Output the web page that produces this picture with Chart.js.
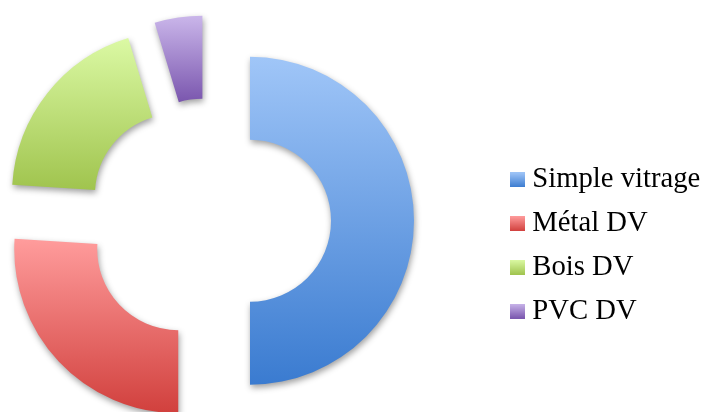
<!DOCTYPE html>
<html>
<head>
<meta charset="utf-8">
<script src="https://cdn.jsdelivr.net/npm/chart.js@4/dist/chart.umd.min.js"></script>
<style>
  html, body { margin: 0; padding: 0; background: #ffffff; }
  #wrap { width: 706px; height: 412px; }
</style>
</head>
<body>
<div id="wrap"><canvas id="c" width="706" height="412"></canvas></div>
<script>
// ---- data ----
const categories = ['Simple vitrage', 'Métal DV', 'Bois DV', 'PVC DV'];
const shares = [50, 26, 19.3, 4.7];

// ---- styles ----
const topColors = ['#A0C6F8', '#FF9C9C', '#DBF9A4', '#CAB6EA'];
const bottomColors = ['#3A7BD0', '#D1403D', '#A0C44E', '#7A56AE'];
const EXPLODE = 41.5;
const GAP = 85.4; // empty space between the ring and the legend

function boxImage(i) {
  const cv = document.createElement('canvas');
  cv.width = 15; cv.height = 15;
  const c = cv.getContext('2d');
  const g = c.createLinearGradient(0, 0, 0, 15);
  g.addColorStop(0, topColors[i]);
  g.addColorStop(1, bottomColors[i]);
  c.fillStyle = g;
  c.fillRect(0, 0, 15, 15);
  return cv;
}
const legendImages = categories.map((_, i) => boxImage(i));

const gapBox = {
  id: 'gapBox',
  beforeInit(chart) {
    const box = {
      position: 'right',
      weight: 500,
      fullSize: false,
      options: { display: false },
      isHorizontal() { return false; },
      update(maxWidth, maxHeight) { this.width = GAP; this.height = maxHeight; },
      draw() {}
    };
    Chart.layouts.addBox(chart, box);
  }
};

const explodeAndShade = {
  id: 'explodeAndShade',
  afterDatasetsUpdate(chart) {
    const meta = chart.getDatasetMeta(0);
    meta.data.forEach((arc, i) => {
      const mid = (arc.startAngle + arc.endAngle) / 2;
      arc.x += Math.cos(mid) * EXPLODE;
      arc.y += Math.sin(mid) * EXPLODE;
      let minY = Infinity, maxY = -Infinity;
      for (let k = 0; k <= 90; k++) {
        const a = arc.startAngle + (arc.endAngle - arc.startAngle) * k / 90;
        for (const r of [arc.innerRadius, arc.outerRadius]) {
          const y = arc.y + Math.sin(a) * r;
          if (y < minY) minY = y;
          if (y > maxY) maxY = y;
        }
      }
      const g = chart.ctx.createLinearGradient(0, minY, 0, maxY);
      g.addColorStop(0, topColors[i]);
      g.addColorStop(1, bottomColors[i]);
      arc.options.backgroundColor = g;
    });
  },
  beforeDatasetsDraw(chart) {
    const ctx = chart.ctx;
    ctx.save();
    ctx.shadowColor = 'rgba(0,0,0,0.38)';
    ctx.shadowBlur = 6;
    ctx.shadowOffsetX = 1;
    ctx.shadowOffsetY = 3;
  },
  afterDatasetsDraw(chart) {
    chart.ctx.restore();
  }
};

new Chart(document.getElementById('c'), {
  type: 'doughnut',
  data: {
    labels: categories,
    datasets: [{
      data: shares,
      backgroundColor: (c) => bottomColors[c.dataIndex],
      borderWidth: 0
    }]
  },
  options: {
    responsive: false,
    animation: false,
    events: [],
    radius: 164,
    cutout: '49.4%',
    layout: { padding: { top: 29.5, right: 0, left: 0, bottom: 0 } },
    plugins: {
      tooltip: { enabled: false },
      legend: {
        position: 'right',
        align: 'center',
        maxWidth: 203.6,
        title: { display: true, text: '', padding: { top: 35, bottom: 0 } },
        labels: {
          usePointStyle: true,
          boxWidth: 0.5,
          padding: 15,
          color: '#000000',
          font: { family: '"Liberation Serif", "Times New Roman", serif', size: 28.7 },
          generateLabels(chart) {
            const items = Chart.overrides.doughnut.plugins.legend.labels.generateLabels(chart);
            items.forEach((it, i) => { it.pointStyle = legendImages[i]; it.lineWidth = 0; });
            return items;
          }
        }
      }
    }
  },
  plugins: [gapBox, explodeAndShade]
});
</script>
</body>
</html>
